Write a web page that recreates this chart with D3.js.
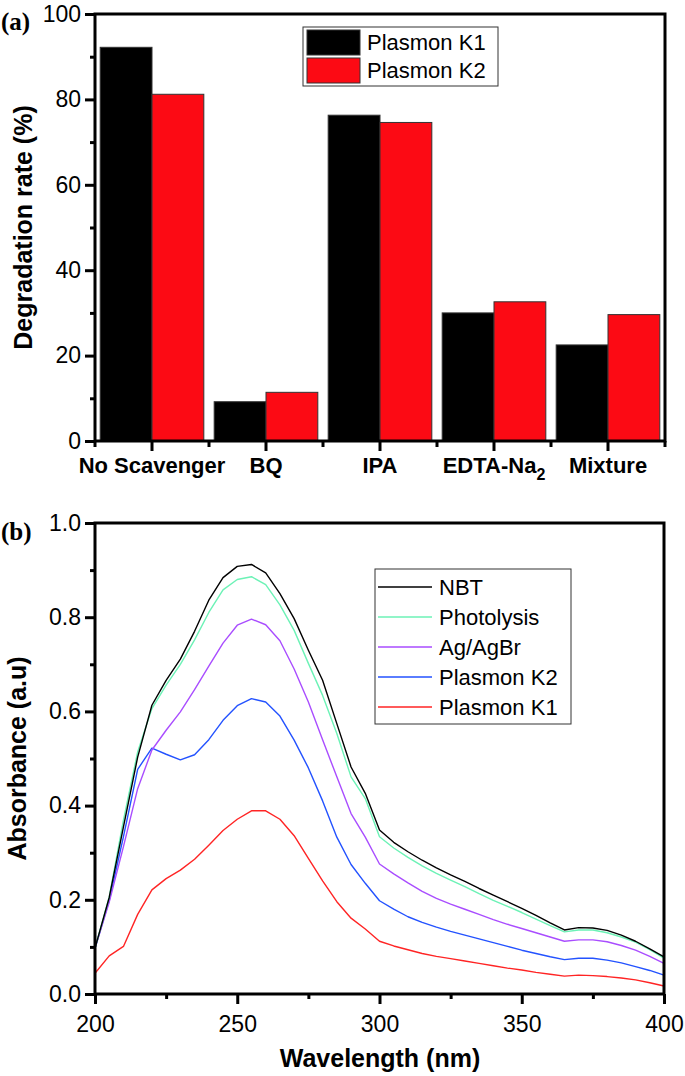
<!DOCTYPE html>
<html>
<head>
<meta charset="utf-8">
<script src="https://cdn.jsdelivr.net/npm/d3@7/dist/d3.min.js"></script>
<style>
  html, body { margin: 0; padding: 0; background: #fff; }
  svg { display: block; }
  text { font-family: "Liberation Sans", Arial, sans-serif; fill: #000; }
</style>
</head>
<body>
<svg id="chart" width="685" height="1076"></svg>
<script>
// ---------- Panel (a) data ----------
const categories = ["No Scavenger", "BQ", "IPA", "EDTA-Na2", "Mixture"];
const barSeries = ["Plasmon K1", "Plasmon K2"];
const k1Rates = [92.2, 9.2, 76.3, 30.0, 22.5];
const k2Rates = [81.2, 11.4, 74.6, 32.6, 29.6];
const rateTicks = [0, 20, 40, 60, 80, 100];
const rateMinorTicks = [10, 30, 50, 70, 90];

// ---------- Panel (b) data ----------
const wavelengths = [200,205,210,215,220,225,230,235,240,245,250,255,260,265,270,275,280,285,290,295,300,
                     305,310,315,320,325,330,335,340,345,350,355,360,365,370,375,380,385,390,395,400];
const nbt = [0.097,0.205,0.355,0.503,0.613,0.666,0.711,0.770,0.836,0.884,0.908,0.912,0.894,0.850,0.797,0.730,0.666,0.574,0.482,0.426,0.348,
             0.322,0.302,0.284,0.268,0.253,0.239,0.224,0.210,0.196,0.182,0.167,0.151,0.136,0.141,0.140,0.135,0.125,0.112,0.096,0.079];
const photolysis = [0.097,0.206,0.369,0.514,0.606,0.656,0.700,0.752,0.810,0.858,0.880,0.886,0.869,0.826,0.772,0.702,0.634,0.553,0.461,0.415,0.334,
             0.310,0.290,0.272,0.256,0.242,0.228,0.213,0.199,0.186,0.173,0.159,0.145,0.132,0.136,0.136,0.130,0.121,0.110,0.094,0.076];
const agAgBr = [0.097,0.195,0.313,0.436,0.518,0.560,0.599,0.646,0.696,0.745,0.783,0.796,0.784,0.750,0.690,0.620,0.540,0.461,0.383,0.333,0.276,
             0.255,0.236,0.218,0.203,0.191,0.180,0.169,0.158,0.148,0.139,0.130,0.121,0.112,0.115,0.115,0.111,0.103,0.093,0.080,0.065];
const plasmonK2 = [0.097,0.199,0.334,0.477,0.522,0.509,0.497,0.508,0.540,0.581,0.612,0.627,0.620,0.590,0.539,0.480,0.410,0.333,0.275,0.235,0.198,
             0.180,0.164,0.152,0.142,0.133,0.125,0.117,0.109,0.101,0.093,0.086,0.079,0.073,0.076,0.076,0.072,0.066,0.058,0.050,0.040];
const plasmonK1 = [0.044,0.081,0.101,0.169,0.221,0.245,0.263,0.286,0.316,0.347,0.371,0.389,0.389,0.371,0.336,0.288,0.240,0.196,0.161,0.138,0.112,
             0.102,0.094,0.086,0.080,0.075,0.070,0.065,0.060,0.055,0.051,0.046,0.042,0.038,0.040,0.039,0.037,0.034,0.030,0.024,0.017];
const lineNames = ["NBT", "Photolysis", "Ag/AgBr", "Plasmon K2", "Plasmon K1"];
const lineValues = [nbt, photolysis, agAgBr, plasmonK2, plasmonK1];
const wlTicks = [200, 250, 300, 350, 400];
const wlMinorTicks = [225, 275, 325, 375];
const absTicks = [0.0, 0.2, 0.4, 0.6, 0.8, 1.0];
const absMinorTicks = [0.1, 0.3, 0.5, 0.7, 0.9];

// ---------- styles ----------
const barColors = ["#000000", "#fc0a14"];
const lineColors = ["#000000", "#6cf2b6", "#a94dff", "#2352ff", "#ff2424"];
const AXW = 3;

const svg = d3.select("#chart");

function styleAxis(g, showText) {
  g.select(".domain").remove();
  g.selectAll(".tick line").attr("stroke", "#000").attr("stroke-width", AXW);
  g.selectAll(".tick text").style("font-size", "23px").style("font-family", "'Liberation Sans', Arial, sans-serif");
  if (!showText) g.selectAll(".tick text").remove();
}

function frame(x0, x1, y0, y1) {
  svg.append("rect")
    .attr("x", x0).attr("y", y0).attr("width", x1 - x0).attr("height", y1 - y0)
    .attr("fill", "none").attr("stroke", "#000").attr("stroke-width", AXW);
}

// ================= Panel (a) =================
{
  const L = 95, R = 665, T = 14, B = 441;
  const x = d3.scaleBand().domain(categories).range([L, R]).paddingInner(0).paddingOuter(0);
  const xs = d3.scaleBand().domain(barSeries).range([0, x.bandwidth()]).paddingOuter(0.1).paddingInner(0);
  const y = d3.scaleLinear().domain([0, 100]).range([B, T]);

  // bars
  const groups = svg.append("g").selectAll("g").data(categories).join("g")
    .attr("transform", d => `translate(${x(d)},0)`);
  groups.selectAll("rect")
    .data((d, i) => [ {s: barSeries[0], v: k1Rates[i], c: 0}, {s: barSeries[1], v: k2Rates[i], c: 1} ])
    .join("rect")
    .attr("x", d => xs(d.s))
    .attr("width", xs.bandwidth())
    .attr("y", d => y(d.v))
    .attr("height", d => y(0) - y(d.v))
    .attr("fill", d => barColors[d.c])
    .attr("stroke", "#333")
    .attr("stroke-width", 1);

  frame(L, R, T, B);

  // y axis
  const ya = svg.append("g").attr("transform", `translate(${L},0)`)
    .call(d3.axisLeft(y).tickValues(rateTicks).tickSize(10).tickPadding(4).tickFormat(d3.format("d")));
  styleAxis(ya, true);
  const yam = svg.append("g").attr("transform", `translate(${L},0)`)
    .call(d3.axisLeft(y).tickValues(rateMinorTicks).tickSize(5).tickFormat(""));
  styleAxis(yam, false);

  // x axis: major ticks at category centres, minor at boundaries
  const xa = svg.append("g").attr("transform", `translate(0,${B})`)
    .call(d3.axisBottom(x).tickSize(10).tickFormat(""));
  styleAxis(xa, false);
  const boundaries = categories.map(c => x(c)).concat([R]);
  svg.append("g").selectAll("line").data(boundaries).join("line")
    .attr("x1", d => d).attr("x2", d => d).attr("y1", B).attr("y2", B + 6)
    .attr("stroke", "#000").attr("stroke-width", AXW);

  // category labels (bold, with subscript digits)
  const lbl = svg.append("g").selectAll("text").data(categories).join("text")
    .attr("x", d => x(d) + x.bandwidth() / 2)
    .attr("y", 473)
    .attr("text-anchor", "middle")
    .style("font-size", "22px").style("font-weight", "bold");
  lbl.each(function(d) {
    const m = d.match(/^(.*?[A-Za-z])(\d+)$/);
    const t = d3.select(this);
    if (m && d.includes("-")) {
      t.append("tspan").text(m[1]);
      t.append("tspan").attr("dy", 7).style("font-size", "16px").text(m[2]);
    } else {
      t.text(d);
    }
  });

  // y title
  svg.append("text")
    .attr("transform", `translate(32,${(T + B) / 2}) rotate(-90)`)
    .attr("text-anchor", "middle")
    .style("font-size", "25px").style("font-weight", "bold")
    .text("Degradation rate (%)");

  // panel label
  svg.append("text").attr("x", 1).attr("y", 30)
    .style("font-family", "'Liberation Serif', 'Times New Roman', serif")
    .style("font-size", "25px").style("font-weight", "bold").text("(a)");

  // legend
  const lg = svg.append("g");
  lg.append("rect").attr("x", 303).attr("y", 27).attr("width", 195).attr("height", 59)
    .attr("fill", "#fff").attr("stroke", "#333").attr("stroke-width", 1);
  barSeries.forEach((s, i) => {
    lg.append("rect").attr("x", 307).attr("y", 30 + i * 28).attr("width", 53).attr("height", 25)
      .attr("fill", barColors[i]).attr("stroke", "#333").attr("stroke-width", 1);
    lg.append("text").attr("x", 367).attr("y", 50 + i * 28)
      .style("font-size", "22px").text(s);
  });
}

// ================= Panel (b) =================
{
  const L = 95, R = 664, T = 523, B = 994;
  const x = d3.scaleLinear().domain([200, 400]).range([L, R]);
  const y = d3.scaleLinear().domain([0, 1]).range([B, T]);

  const line = d3.line().x(d => x(d[0])).y(d => y(d[1]));
  svg.append("g").selectAll("path")
    .data(lineValues.map((vals, k) => ({k, pts: wavelengths.map((w, i) => [w, vals[i]])})).reverse())
    .join("path")
    .attr("d", d => line(d.pts))
    .attr("fill", "none")
    .attr("stroke", d => lineColors[d.k])
    .attr("stroke-width", 1.4)
    .attr("stroke-linejoin", "round");

  frame(L, R, T, B);

  const ya = svg.append("g").attr("transform", `translate(${L},0)`)
    .call(d3.axisLeft(y).tickValues(absTicks).tickSize(10).tickPadding(4).tickFormat(d3.format(".1f")));
  styleAxis(ya, true);
  const yam = svg.append("g").attr("transform", `translate(${L},0)`)
    .call(d3.axisLeft(y).tickValues(absMinorTicks).tickSize(5).tickFormat(""));
  styleAxis(yam, false);

  const xa = svg.append("g").attr("transform", `translate(0,${B})`)
    .call(d3.axisBottom(x).tickValues(wlTicks).tickSize(10).tickPadding(12).tickFormat(d3.format("d")));
  styleAxis(xa, true);
  const xam = svg.append("g").attr("transform", `translate(0,${B})`)
    .call(d3.axisBottom(x).tickValues(wlMinorTicks).tickSize(5).tickFormat(""));
  styleAxis(xam, false);

  svg.append("text")
    .attr("x", 380).attr("y", 1067)
    .attr("text-anchor", "middle")
    .style("font-size", "25px").style("font-weight", "bold")
    .text("Wavelength (nm)");

  svg.append("text")
    .attr("transform", `translate(26,${(T + B) / 2}) rotate(-90)`)
    .attr("text-anchor", "middle")
    .style("font-size", "25px").style("font-weight", "bold")
    .text("Absorbance (a.u)");

  svg.append("text").attr("x", 1).attr("y", 540)
    .style("font-family", "'Liberation Serif', 'Times New Roman', serif")
    .style("font-size", "25px").style("font-weight", "bold").text("(b)");

  const lg = svg.append("g");
  lg.append("rect").attr("x", 375).attr("y", 569).attr("width", 196).attr("height", 155)
    .attr("fill", "#fff").attr("stroke", "#333").attr("stroke-width", 1);
  lineNames.forEach((n, i) => {
    const yy = 587 + i * 30;
    lg.append("line").attr("x1", 378).attr("x2", 432).attr("y1", yy).attr("y2", yy)
      .attr("stroke", lineColors[i]).attr("stroke-width", 1.6);
    lg.append("text").attr("x", 439).attr("y", yy + 8)
      .style("font-size", "22px").text(n);
  });
}
</script>
</body>
</html>
